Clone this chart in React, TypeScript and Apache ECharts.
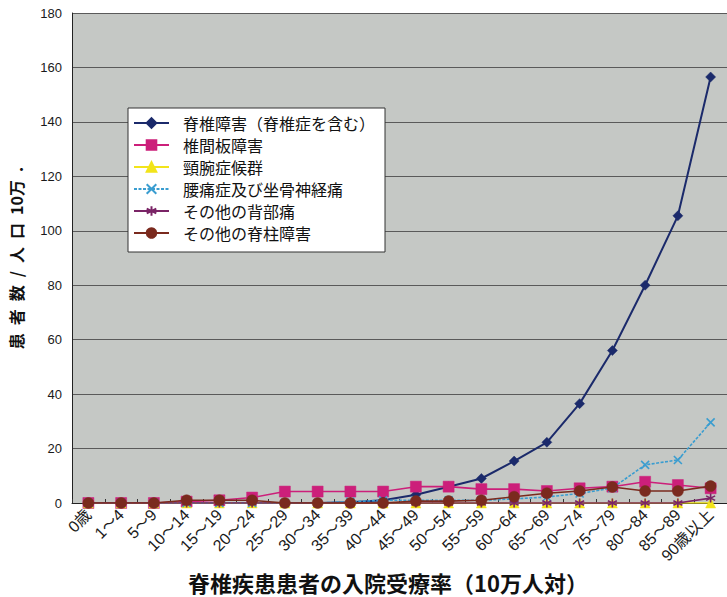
import React, { useEffect, useRef } from "react";
import * as echarts from "echarts";

const categories = ['0歳', '1～4', '5～9', '10～14', '15～19', '20～24', '25～29', '30～34', '35～39', '40～44', '45～49', '50～54', '55～59', '60～64', '65～69', '70～74', '75～79', '80～84', '85～89', '90歳以上'];

const seriesNames = ['脊椎障害（脊椎症を含む）', '椎間板障害', '頸腕症候群', '腰痛症及び坐骨神経痛', 'その他の背部痛', 'その他の脊柱障害'];

const spinalDisorder = [0, 0, 0, 0, 0, 0, 0, 0, 0.3, 1, 3, 6, 9, 15.4, 22.3, 36.5, 56, 80, 105.5, 156.5];
const discDisorder = [0, 0, 0, 0.5, 1, 2, 4.2, 4.2, 4.2, 4.2, 6, 6, 5.1, 5.1, 4.4, 5.4, 6, 7.8, 6.6, 5.4];
const cervicobrachial = [0, 0, 0, 0, 0, 0, 0, 0, 0, 0, 0, 0, 0, 0, 0, 0, 0, 0, 0, 0];
const lumbagoSciatica = [0, 0, 0, 0, 0, 0, 0, 0, 0.5, 1, 1, 1, 1, 1.5, 2.2, 3.5, 5.5, 14, 15.8, 29.6];
const otherBackPain = [0, 0, 0, 0, 0, 0, 0, 0, 0, 0, 0, 0, 0, 0, 0, 0, 0, 0, 0, 1.8];
const otherSpinal = [0, 0, 0, 1, 1, 1, 0, 0, 0, 0, 0.7, 0.7, 1, 2.3, 3.6, 4.4, 5.9, 4.4, 4.4, 6.2];

const yTicks = { min: 0, max: 180, interval: 20 };

const chartTitle = "脊椎疾患患者の入院受療率（10万人対）";
const yAxisName = "患\u2002者\u2002数\u2002/\u2002人\u2002口\u200210万\u2002.";

const CROSS = "path://M0,0L10,10M10,0L0,10";
const ASTER = "path://M5,0L5,10M0.7,2.5L9.3,7.5M9.3,2.5L0.7,7.5";

export default function App() {
  const ref = useRef<HTMLDivElement>(null);
  useEffect(() => {
    if (!ref.current) return;
    const chart = echarts.init(ref.current, null, { renderer: "svg" });
    const font = "'Liberation Sans', Arial, 'Noto Sans CJK JP', sans-serif";
    const cjk = "'Noto Sans CJK JP', sans-serif";
    const mk = (
      name: string,
      data: number[],
      color: string,
      symbol: string,
      size: number,
      width: number,
      opts: any = {}
    ) => ({
      name,
      type: "line",
      data,
      symbol,
      symbolSize: size,
      lineStyle: { color, width, type: opts.dashed ? [3, 1.5] : "solid" },
      itemStyle: opts.stroke
        ? { color, borderColor: color, borderWidth: 1.6 }
        : { color, borderColor: color, borderWidth: 0.5 },
      z: opts.z ?? 2,
    });
    chart.setOption({
      animation: false,
      textStyle: { fontFamily: font },
      title: {
        text: chartTitle,
        left: 188,
        top: 571,
        padding: 0,
        textStyle: { fontSize: 22, fontWeight: "bold", color: "#111", fontFamily: cjk },
      },
      grid: { left: 72, right: 0, top: 13, bottom: 94, containLabel: false, show: true, backgroundColor: "#c5c8c5", borderWidth: 0 },
      legend: {
        orient: "vertical",
        left: 128,
        top: 108,
        backgroundColor: "#ffffff",
        borderColor: "#333333",
        borderWidth: 1,
        padding: [7, 10, 11, 5],
        itemWidth: 35,
        itemHeight: 12,
        itemGap: 6,
        textStyle: { fontSize: 16, color: "#111", lineHeight: 16, padding: [0, 0, 0, 9], fontFamily: cjk },
        data: seriesNames,
      },
      xAxis: {
        type: "category",
        data: categories,
        boundaryGap: true,
        axisLine: { show: true, lineStyle: { color: "#222", width: 1 } },
        axisTick: { show: true, inside: true, length: 4, lineStyle: { color: "#333" } },
        axisLabel: { rotate: 45, fontSize: 16, color: "#1a1a1a", margin: 9, interval: 0, fontFamily: font },
        splitLine: { show: false },
      },
      yAxis: {
        type: "value",
        min: yTicks.min,
        max: yTicks.max,
        interval: yTicks.interval,
        name: yAxisName,
        nameLocation: "middle",
        nameGap: 48,
        nameRotate: 90,
        nameTextStyle: { fontSize: 16, fontWeight: "bold", color: "#111", fontFamily: cjk },
        axisLine: { show: true, lineStyle: { color: "#222", width: 1 } },
        axisTick: { show: false },
        axisLabel: { fontSize: 13, color: "#1a1a1a", margin: 10, fontFamily: font },
        splitLine: { show: true, lineStyle: { color: "#5a5a5a", width: 1 } },
      },
      series: [
        mk(seriesNames[0], spinalDisorder, "#1b2a6b", "diamond", 10, 2, { z: 2 }),
        mk(seriesNames[1], discDisorder, "#cc1f7a", "rect", 11, 1.6, { z: 3 }),
        mk(seriesNames[2], cervicobrachial, "#f2e41a", "triangle", 10, 1.6, { z: 4 }),
        mk(seriesNames[3], lumbagoSciatica, "#3a9dd0", CROSS, 8, 1.6, { z: 5, stroke: true, dashed: true }),
        mk(seriesNames[4], otherBackPain, "#7a2466", ASTER, 9, 1.6, { z: 6, stroke: true }),
        mk(seriesNames[5], otherSpinal, "#7a2a1e", "circle", 11, 1.6, { z: 7 }),
      ],
    });
    return () => chart.dispose();
  }, []);
  return <div ref={ref} style={{ width: 727, height: 597, position: "absolute", left: 0, top: 0, background: "#fff" }} />;
}
